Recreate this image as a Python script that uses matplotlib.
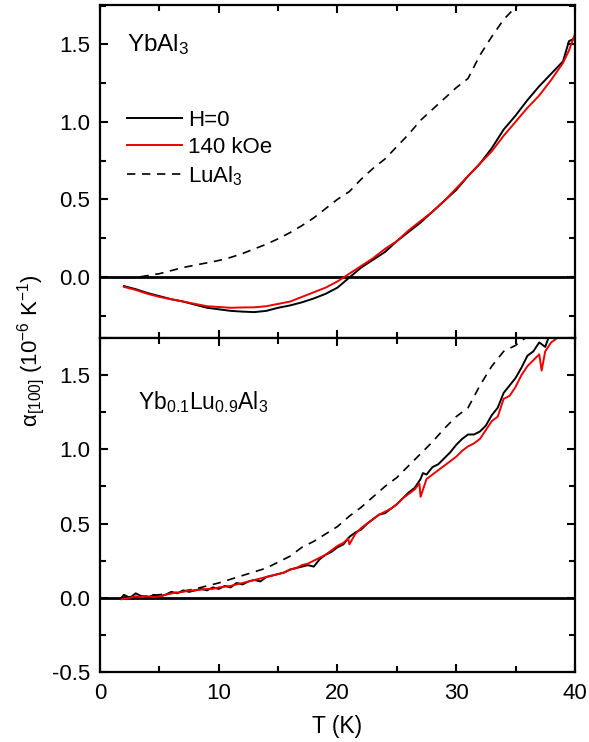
import matplotlib
matplotlib.use("Agg")
import matplotlib.pyplot as plt
from matplotlib.ticker import MultipleLocator

plt.rcParams['font.family'] = ['Liberation Sans', 'DejaVu Sans']
plt.rcParams['mathtext.fontset'] = 'custom'
plt.rcParams['mathtext.rm'] = 'Liberation Sans'
plt.rcParams['mathtext.it'] = 'Liberation Sans'
plt.rcParams['mathtext.default'] = 'regular'
plt.rcParams['axes.unicode_minus'] = False

# ---- YbAl3 (top panel) ----
t_top = [2, 3, 4, 5, 6, 7, 8, 9, 10, 11, 12, 13, 14, 15, 16, 17, 18, 19, 20,
         21, 22, 23, 24, 25, 26, 27, 28, 29, 30, 31, 32, 33, 34, 35, 36, 37,
         38, 39, 39.5, 40]
yb_h0 = [-0.06, -0.08, -0.105, -0.125, -0.145, -0.16, -0.18, -0.20, -0.21,
         -0.22, -0.225, -0.228, -0.22, -0.20, -0.185, -0.165, -0.14, -0.11,
         -0.07, -0.005, 0.06, 0.11, 0.16, 0.23, 0.29, 0.35, 0.42, 0.49, 0.56,
         0.65, 0.73, 0.83, 0.95, 1.04, 1.14, 1.23, 1.31, 1.39, 1.52, 1.54]
yb_140 = [-0.065, -0.085, -0.11, -0.13, -0.145, -0.16, -0.175, -0.19, -0.195,
          -0.2, -0.198, -0.197, -0.19, -0.175, -0.16, -0.13, -0.10, -0.07,
          -0.03, 0.02, 0.07, 0.12, 0.18, 0.23, 0.30, 0.36, 0.42, 0.49, 0.57,
          0.65, 0.73, 0.81, 0.91, 1.00, 1.09, 1.17, 1.27, 1.38, 1.46, 1.565]

t_lu_top = [3.4, 5, 6, 7, 8, 9, 10, 11, 12, 13, 14, 15, 16, 17, 18, 19, 20, 21,
            22, 23, 24, 25, 26, 27, 28, 29, 30, 31, 32, 33, 34, 35, 36]
lu_top = [0.0, 0.02, 0.04, 0.06, 0.075, 0.09, 0.105, 0.125, 0.15, 0.18, 0.21,
          0.245, 0.285, 0.33, 0.38, 0.44, 0.50, 0.55, 0.63, 0.70, 0.76, 0.84,
          0.92, 1.01, 1.08, 1.15, 1.22, 1.28, 1.43, 1.55, 1.66, 1.74, 1.82]

# ---- Yb0.1Lu0.9Al3 (bottom panel) ----
t_bot_h0 = [1.8, 2.0, 2.5, 3.0, 3.5, 4.0, 4.5, 5.0, 5.5, 6.0, 6.5, 7.0, 7.5,
            8.0, 8.5, 9.0, 9.5, 10.0, 10.5, 11.0, 11.5, 12.0, 12.5, 13.0, 13.5,
            14.0, 14.5, 15.0, 15.5, 16.0, 16.5, 17.0, 17.5, 18.0, 18.5, 19.0,
            19.5, 20.0, 20.5, 21.0, 21.5, 22.0, 22.5, 23.0, 23.5, 24.0, 24.5,
            25.0, 25.5, 26.0, 26.5, 27.0, 27.2, 27.5, 28.0, 28.5, 29.0, 29.5,
            30.0, 30.5, 31.0, 31.5, 32.0, 32.5, 33.0, 33.5, 34.0, 34.5, 35.0,
            35.5, 36.0, 36.5, 37.0, 37.5, 38.0]
bot_h0 = [0.0, 0.02, 0.0, 0.03, 0.01, 0.0, 0.02, 0.01, 0.02, 0.04, 0.03, 0.05,
          0.04, 0.05, 0.06, 0.05, 0.07, 0.06, 0.08, 0.07, 0.10, 0.09, 0.11,
          0.12, 0.11, 0.14, 0.15, 0.16, 0.17, 0.19, 0.20, 0.21, 0.22, 0.21,
          0.26, 0.29, 0.31, 0.34, 0.36, 0.41, 0.44, 0.46, 0.50, 0.53, 0.56,
          0.57, 0.60, 0.63, 0.67, 0.71, 0.74, 0.80, 0.84, 0.83, 0.88, 0.90,
          0.94, 0.98, 1.03, 1.07, 1.10, 1.10, 1.12, 1.16, 1.23, 1.28, 1.38,
          1.43, 1.48, 1.55, 1.63, 1.66, 1.72, 1.69, 1.80]

t_bot_140 = [1.8, 2.5, 3.0, 3.5, 4.0, 4.5, 5.0, 5.5, 6.0, 6.5, 7.0, 7.5, 8.0,
             8.5, 9.0, 9.5, 10.0, 10.5, 11.0, 11.5, 12.0, 12.5, 13.0, 13.5,
             14.0, 14.5, 15.0, 15.5, 16.0, 16.5, 17.0, 17.5, 18.0, 18.5, 19.0,
             19.5, 20.0, 20.5, 20.9, 21.0, 21.5, 22.0, 22.5, 23.0, 23.5, 24.0,
             24.5, 25.0, 25.5, 26.0, 26.5, 26.9, 27.0, 27.5, 28.0, 28.5, 29.0,
             29.5, 30.0, 30.5, 31.0, 31.5, 32.0, 32.5, 33.0, 33.5, 34.0, 34.5,
             35.0, 35.5, 36.0, 36.5, 37.0, 37.2, 37.5, 38.0, 38.7]
bot_140 = [-0.01, 0.0, 0.01, 0.005, 0.01, 0.005, 0.01, 0.02, 0.03, 0.035,
           0.04, 0.05, 0.05, 0.055, 0.06, 0.06, 0.07, 0.075, 0.08, 0.09, 0.10,
           0.11, 0.12, 0.13, 0.14, 0.15, 0.16, 0.17, 0.19, 0.20, 0.22, 0.23,
           0.25, 0.27, 0.29, 0.32, 0.35, 0.37, 0.40, 0.36, 0.43, 0.47, 0.50,
           0.53, 0.56, 0.58, 0.60, 0.63, 0.67, 0.70, 0.73, 0.77, 0.68, 0.80,
           0.83, 0.86, 0.89, 0.92, 0.95, 0.99, 1.02, 1.04, 1.07, 1.13, 1.19,
           1.22, 1.34, 1.36, 1.42, 1.50, 1.56, 1.60, 1.64, 1.53, 1.66, 1.72,
           1.76]

t_lu_bot = [2, 4, 6, 8, 10, 12, 14, 16, 17, 18, 19, 20, 21, 22, 23, 24, 25,
            26, 27, 28, 29, 30, 31, 32, 33, 34, 35, 36]
lu_bot = [0.005, 0.012, 0.03, 0.06, 0.10, 0.15, 0.20, 0.28, 0.34, 0.38, 0.43,
          0.48, 0.55, 0.61, 0.68, 0.75, 0.81, 0.89, 0.97, 1.05, 1.14, 1.22,
          1.28, 1.43, 1.56, 1.66, 1.70, 1.76]

fig = plt.figure(figsize=(5.89, 7.42), dpi=100)
ax1 = fig.add_axes([0.170, 0.5445, 0.806, 0.449])
ax2 = fig.add_axes([0.170, 0.0943, 0.806, 0.4502], sharex=ax1)

lw = 1.4
dash = (0, (5, 4))
ax1.axhline(0, color='black', lw=2, zorder=1)
ax1.plot(t_lu_top, lu_top, color='black', ls=dash, lw=1.2, label='LuAl$_3$')
ax1.plot(t_top, yb_h0, color='black', lw=lw, label='H=0')
ax1.plot(t_top, yb_140, color='#ee0000', lw=lw, label='140 kOe')

ax2.axhline(0, color='black', lw=2, zorder=1)
ax2.plot(t_lu_bot, lu_bot, color='black', ls=dash, lw=1.2)
ax2.plot(t_bot_h0, bot_h0, color='black', lw=lw)
ax2.plot(t_bot_140, bot_140, color='#ee0000', lw=lw)

ax1.set_ylim(-0.395, 1.755)
ax2.set_ylim(-0.5, 1.75)
ax1.set_xlim(0, 40)

for ax in (ax1, ax2):
    ax.xaxis.set_major_locator(MultipleLocator(10))
    ax.xaxis.set_minor_locator(MultipleLocator(5))
    ax.yaxis.set_major_locator(MultipleLocator(0.5))
    ax.yaxis.set_minor_locator(MultipleLocator(0.25))
    ax.tick_params(which='both', direction='in', top=True, right=True,
                   width=1.5, labelsize=16)
    ax.tick_params(which='major', length=6)
    ax.tick_params(which='minor', length=4)
    ax.tick_params(axis='y', pad=7)
    ax.tick_params(axis='x', pad=8)
    for s in ax.spines.values():
        s.set_linewidth(1.6)
    ax.yaxis.set_major_formatter(plt.FuncFormatter(lambda v, p: f"{v:.1f}"))

ax1.tick_params(labelbottom=False)
ax2.set_xlabel('T (K)', fontsize=16.5, labelpad=8)
fig.text(0.052, 0.528, r'$\alpha_{[100]}$ (10$^{-6}$ K$^{-1}$)', rotation=90,
         va='center', ha='center', fontsize=16)

ax1.text(2.3, 1.456, 'YbAl$_3$', fontsize=17.5, va='baseline')
ax2.text(3.2, 1.27, 'Yb$_{0.1}$Lu$_{0.9}$Al$_3$', fontsize=16.5, va='baseline')

h, l = ax1.get_legend_handles_labels()
order = [1, 2, 0]
ax1.legend([h[i] for i in order], [l[i] for i in order], loc='upper left',
           bbox_to_anchor=(0.057, 0.685), frameon=False, fontsize=16,
           handlelength=2.48, handletextpad=0.27, labelspacing=0.28,
           borderpad=0, borderaxespad=0)

fig.savefig('out.png', dpi=100)
